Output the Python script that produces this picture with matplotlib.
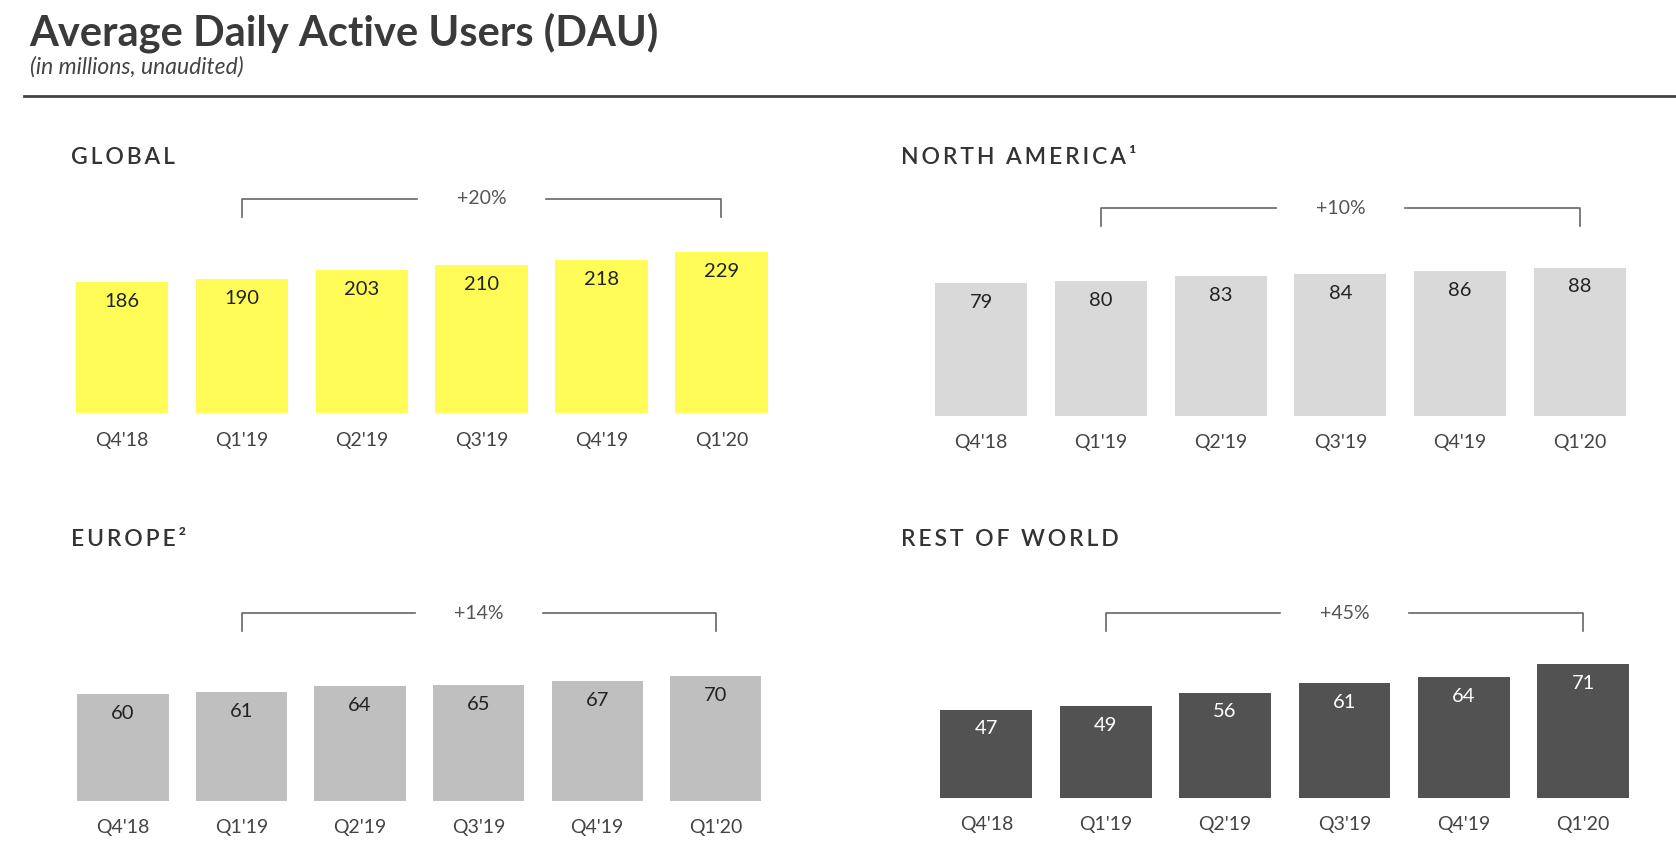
import matplotlib
matplotlib.use("Agg")
import matplotlib.pyplot as plt
from matplotlib.transforms import blended_transform_factory

plt.rcParams['font.family'] = ['Lato', 'DejaVu Sans']

# data
quarters = ["Q4'18", "Q1'19", "Q2'19", "Q3'19", "Q4'19", "Q1'20"]
global_dau = [186, 190, 203, 210, 218, 229]
na_dau = [79, 80, 83, 84, 86, 88]
europe_dau = [60, 61, 64, 65, 67, 70]
row_dau = [47, 49, 56, 61, 64, 71]
panel_titles = ["GLOBAL", "NORTH AMERICA\u00b9", "EUROPE\u00b2", "REST OF WORLD"]
growth = ["+20%", "+10%", "+14%", "+45%"]

W, H = 1568.0, 790.0  # layout measured in this pixel space

fig = plt.figure(figsize=(16.76, 8.44), dpi=100)
fig.patch.set_facecolor('white')

# header
fig.text(27 / W, 1 - 43 / H, "Average Daily Active Users (DAU)", fontsize=30,
         fontweight='bold', color='#3a3a3a', ha='left', va='baseline')
fig.text(28 / W, 1 - 69 / H, "(in millions, unaudited)", fontsize=16.5,
         style='italic', color='#444444', ha='left', va='baseline')
fig.add_artist(plt.Line2D([22 / W, 1.0], [1 - 89.5 / H] * 2, color='#444444',
                          lw=2, transform=fig.transFigure))

# (values, colour, label colour, left, right, baseline, bracket y, ymax, title xy)
panels = [
    (global_dau, '#FFFC58', '#222222', 58, 731, 387, 186, 304.5, (66, 147)),
    (na_dau, '#D9D9D9', '#222222', 862, 1534, 389, 195, 123.2, (843, 147)),
    (europe_dau, '#BFBFBF', '#222222', 59.7, 725, 750, 574, 104.8, (66, 505)),
    (row_dau, '#525252', '#FFFFFF', 867, 1537, 747, 574, 98.1, (843, 505)),
]

for i, (vals, col, lcol, l, r, base, top, ymax, txy) in enumerate(panels):
    ax = fig.add_axes([l / W, 1 - base / H, (r - l) / W, (base - top) / H])
    x = range(len(vals))
    bars = ax.bar(x, vals, width=0.77, color=col)
    for b, v in zip(bars, vals):
        ax.annotate(str(v), (b.get_x() + b.get_width() / 2, v), xytext=(0, -14),
                    textcoords='offset points', ha='center', va='center',
                    fontsize=14.5, color=lcol)
    ax.set_xlim(-0.5, 5.5)
    ax.set_ylim(0, ymax)
    ax.set_xticks(list(x))
    ax.set_xticklabels(quarters, fontsize=14, color='#444444')
    ax.tick_params(axis='x', length=0, pad=13)
    ax.set_yticks([])
    for s in ax.spines.values():
        s.set_visible(False)
    ax.set_facecolor('none')

    # growth bracket from Q1'19 to Q1'20
    tr = blended_transform_factory(ax.transData, ax.transAxes)
    drop = 17.0 / (base - top)
    ax.plot([1, 1, 2.46], [1 - drop, 1, 1], color='#666666', lw=1.2,
            transform=tr, clip_on=False)
    ax.plot([3.54, 5, 5], [1, 1, 1 - drop], color='#666666', lw=1.2,
            transform=tr, clip_on=False)
    ax.text(3, 1, growth[i], transform=tr, ha='center', va='center',
            fontsize=14, color='#555555')

    fig.text(txy[0] / W, 1 - txy[1] / H, "\u2009".join(panel_titles[i]),
             fontsize=16.5, fontweight='semibold', color='#333333',
             ha='left', va='center')

fig.savefig('out.png', dpi=100, facecolor='white')
